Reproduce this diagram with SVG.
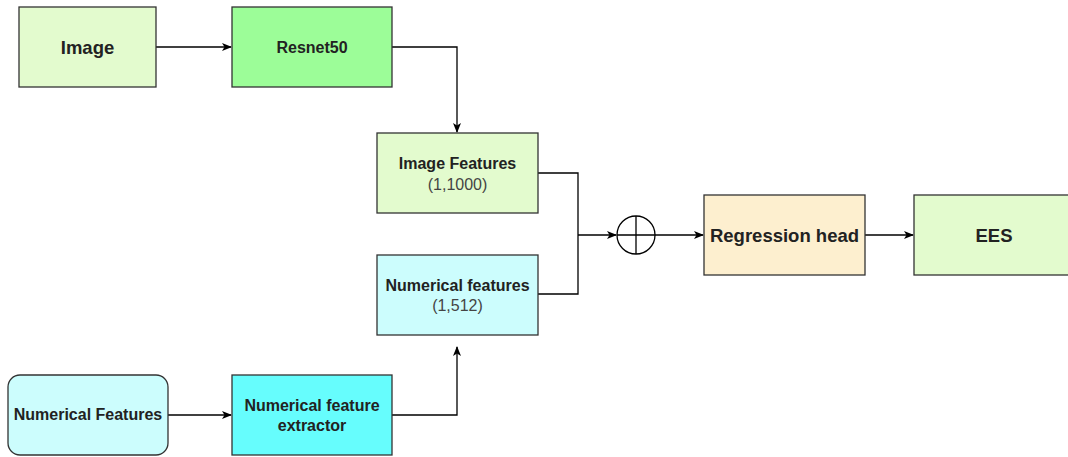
<svg xmlns="http://www.w3.org/2000/svg" width="1068" height="457" viewBox="0 0 1068 457">
<style>
.box{stroke:#333;stroke-width:1.3}
.t{font-family:"Liberation Sans",Arial,sans-serif;font-weight:bold;fill:#222;text-anchor:middle;dominant-baseline:central}
.s{font-family:"Liberation Sans",Arial,sans-serif;fill:#444;text-anchor:middle;dominant-baseline:central;font-size:16px}
.c{fill:none;stroke:#000;stroke-width:1.3}
</style>
<defs>
<marker id="ah" viewBox="0 0 10 10" refX="9" refY="5" markerWidth="10" markerHeight="10" markerUnits="userSpaceOnUse" orient="auto">
<path d="M0,1 L10,5 L0,9 L2.5,5 Z" fill="#000"/>
</marker>
</defs>
<rect width="1068" height="457" fill="#fff"/>
<g id="connectors">
<path class="c" d="M156,47 H231" marker-end="url(#ah)"/>
<path class="c" d="M392,47 H457 V132" marker-end="url(#ah)"/>
<path class="c" d="M538,173 H578 V294 H538"/>
<path class="c" d="M578,235 H616" marker-end="url(#ah)"/>
<path class="c" d="M655,235 H703" marker-end="url(#ah)"/>
<path class="c" d="M865,235 H913" marker-end="url(#ah)"/>
<path class="c" d="M168,415 H231" marker-end="url(#ah)"/>
<path class="c" d="M392,415 H457 V347" marker-end="url(#ah)"/>
</g>
<g id="image"><rect class="box" x="19" y="7" width="137" height="80" fill="#e3fbce"/><text class="t" x="87.5" y="47" font-size="18.5">Image</text></g>
<g id="resnet50"><rect class="box" x="232" y="7" width="160" height="80" fill="#9cfd98"/><text class="t" x="312" y="47" font-size="16">Resnet50</text></g>
<g id="image-features"><rect class="box" x="377" y="133" width="161" height="80" fill="#e3fbce"/><text class="t" x="457.5" y="163" font-size="16">Image Features</text><text class="s" x="457.5" y="184">(1,1000)</text></g>
<g id="numerical-features-vec"><rect class="box" x="377" y="255" width="161" height="80" fill="#ccfdfd"/><text class="t" x="457.5" y="285" font-size="16">Numerical features</text><text class="s" x="457.5" y="305">(1,512)</text></g>
<g id="concat"><circle cx="636" cy="235" r="19" fill="#fff" stroke="#000" stroke-width="1.3"/><path d="M617,235 H655 M636,216 V254" stroke="#000" stroke-width="1.3"/></g>
<g id="regression-head"><rect class="box" x="704" y="195" width="161" height="80" fill="#fdefcf"/><text class="t" x="784.5" y="235" font-size="18.5">Regression head</text></g>
<g id="ees"><rect class="box" x="914" y="195" width="160" height="80" fill="#e3fbce"/><text class="t" x="994" y="235" font-size="18.5">EES</text></g>
<g id="numerical-features-in"><rect class="box" x="8" y="375" width="160" height="80" rx="12" fill="#ccfdfd"/><text class="t" x="88" y="414" font-size="16">Numerical Features</text></g>
<g id="extractor"><rect class="box" x="232" y="375" width="160" height="80" fill="#66fdfd"/><text class="t" x="312" y="405" font-size="16">Numerical feature</text><text class="t" x="312" y="425" font-size="16">extractor</text></g>
</svg>
